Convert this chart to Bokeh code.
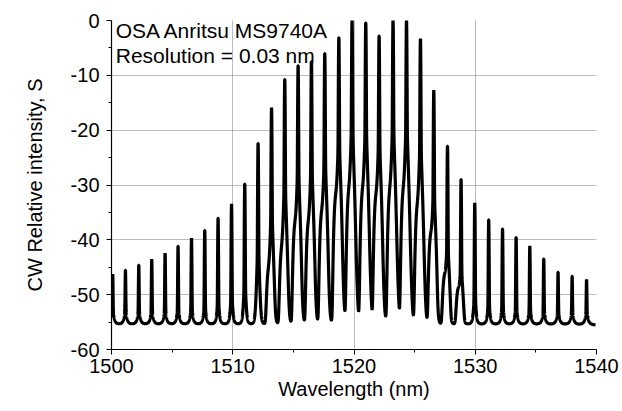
import numpy as np
from bokeh.plotting import figure
from bokeh.models import Range1d, FixedTicker, Label, Grid
from bokeh.embed import file_html
from bokeh.resources import INLINE

# ---- data ----
peak_wl = [1500.10, 1501.15, 1502.25, 1503.32, 1504.42, 1505.49, 1506.60, 1507.69,
           1508.79, 1509.90, 1510.99, 1512.09, 1513.20, 1514.29, 1515.39, 1516.49,
           1517.59, 1518.75, 1519.84, 1520.97, 1522.07, 1523.22, 1524.33, 1525.48,
           1526.58, 1527.71, 1528.83, 1529.96, 1531.11, 1532.25, 1533.37, 1534.50,
           1535.65, 1536.83, 1537.99, 1539.18]
peak_db = [-47.3, -46.4, -45.3, -44.1, -42.9, -41.5, -40.0, -38.5,
           -36.2, -33.6, -29.9, -22.5, -16.0, -10.8, -8.3, -7.6,
           -6.1, -3.2, 0.0, -0.5, -2.9, 0.0, 0.0, -3.4,
           -12.8, -23.0, -29.1, -33.4, -36.5, -38.2, -39.8, -41.5,
           -44.0, -46.8, -47.7, -48.5]
# level of the broad shoulder under each line (left side), -90 = none
side_db = [-90, -90, -90, -90, -90, -90, -90, -90,
           -90, -90, -90, -90, -46.0, -42.0, -37.0, -37.0,
           -35.0, -32.0, -31.0, -31.0, -32.0, -31.0, -31.0, -34.0,
           -39.0, -47.0, -50.0, -90, -90, -90, -90, -90,
           -90, -90, -90, -90]
floor_db = -55.6      # noise floor between lines
skirt_db = -57.5      # rounded skirt of the floor under each line

x_ticks = [1500, 1510, 1520, 1530, 1540]
y_ticks = [-60, -50, -40, -30, -20, -10, 0]
y_tick_labels = ["-60", "-50", "-40", "-30", "-20", "-10", "0"]

# ---- build the measured trace from the read peak values ----
wl = np.arange(1500.0, 1539.92, 0.004)
power = np.full_like(wl, 10 ** (floor_db / 10))
for c, pk, sd in zip(peak_wl, peak_db, side_db):
    d = wl - c
    power += 10 ** (pk / 10) * np.exp(-d ** 2 / (2 * 0.02 ** 2))
    power += 10 ** ((pk - 16) / 10) * np.exp(-np.abs(d) / 0.055)
    power += 10 ** (sd / 10) * np.exp(-((d + 0.1) / 0.29) ** 4)
    power += 10 ** (skirt_db / 10) / (1 + (d / 0.12) ** 2)
level = 10 * np.log10(power)

FONT = "Liberation Sans"

p = figure(width=621, height=404, x_range=Range1d(1500, 1540), y_range=Range1d(-60, 0),
           output_backend="svg", toolbar_location=None,
           min_border_left=111, min_border_right=25, min_border_top=20, min_border_bottom=55)
p.outline_line_color = None
p.background_fill_color = "white"
p.border_fill_color = "white"
p.grid.visible = False

gx = Grid(dimension=0, ticker=FixedTicker(ticks=[1510, 1520, 1530]),
          grid_line_color="#7a7a7a", grid_line_dash="1 1", grid_line_width=1)
gy = Grid(dimension=1, ticker=FixedTicker(ticks=[-50, -40, -30, -20, -10]),
          grid_line_color="#7a7a7a", grid_line_dash="1 1", grid_line_width=1)
p.add_layout(gx)
p.add_layout(gy)

p.line(wl, level, line_color="black", line_width=3.2)

p.xaxis.ticker = FixedTicker(ticks=x_ticks, minor_ticks=[1505, 1515, 1525, 1535])
p.yaxis.ticker = FixedTicker(ticks=y_ticks, minor_ticks=[-55, -45, -35, -25, -15, -5])
p.yaxis.major_label_overrides = {t: s for t, s in zip(y_ticks, y_tick_labels)}
p.xaxis.major_label_overrides = {t: str(t) for t in x_ticks}

for ax in (p.xaxis, p.yaxis):
    ax.axis_line_color = "black"
    ax.axis_line_width = 1.2
    ax.major_tick_line_color = "black"
    ax.minor_tick_line_color = "black"
    ax.major_tick_in = 0
    ax.major_tick_out = 5
    ax.minor_tick_in = 0
    ax.minor_tick_out = 3
    ax.major_label_text_font = FONT
    ax.major_label_text_font_size = "20px"
    ax.major_label_text_color = "black"
    ax.axis_label_text_font = FONT
    ax.axis_label_text_font_size = "20px"
    ax.axis_label_text_font_style = "normal"
    ax.axis_label_text_color = "black"

p.xaxis.axis_label = "Wavelength (nm)"
p.yaxis.axis_label = "CW Relative intensity, S"
p.xaxis.major_label_standoff = 4
p.xaxis.axis_label_standoff = 2
p.yaxis.major_label_standoff = 7
p.yaxis.axis_label_standoff = 22

p.add_layout(Label(x=1500.35, y=-1.75, text="OSA Anritsu MS9740A", text_font=FONT,
                   text_font_size="21px", text_color="black", text_baseline="alphabetic"))
p.add_layout(Label(x=1500.35, y=-6.45, text="Resolution = 0.03 nm", text_font=FONT,
                   text_font_size="21px", text_color="black", text_baseline="alphabetic"))

open("out.html", "w").write(file_html(p, INLINE))
